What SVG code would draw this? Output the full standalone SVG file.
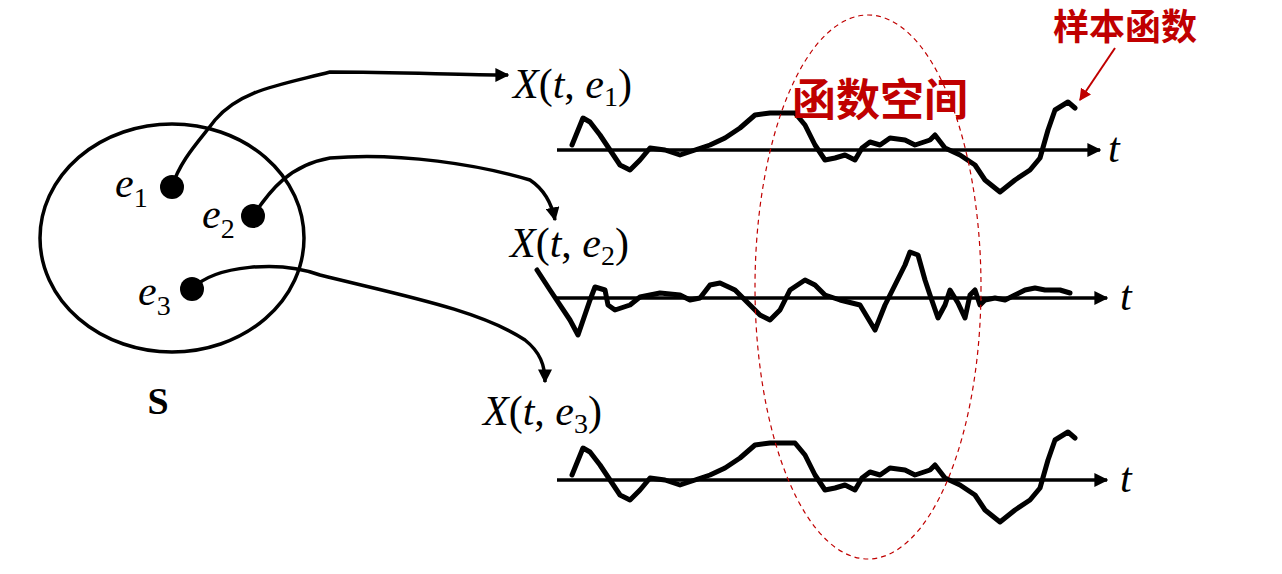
<svg xmlns="http://www.w3.org/2000/svg" width="1282" height="574" viewBox="0 0 1282 574">
<style>
.w{fill:none;stroke:#000;stroke-width:5;stroke-linejoin:round;stroke-linecap:round}
.c{fill:none;stroke:#000;stroke-width:3.5}
.ax{stroke:#000;stroke-width:3.5}
.m{font-family:"Liberation Serif",serif;font-size:42px;font-style:italic}
.up{font-style:normal}
.sub{font-size:28px;font-style:normal}
.red{fill:#c00000;font-family:"Noto Sans CJK SC",sans-serif;font-weight:bold}
</style>
<defs>
<marker id="ar" viewBox="0 0 10 10" refX="9" refY="5" markerWidth="4" markerHeight="4" orient="auto"><path d="M0,0L10,5L0,10z" fill="#000"/></marker>
<marker id="ra" viewBox="0 0 10 10" refX="9" refY="5" markerWidth="6" markerHeight="6" orient="auto"><path d="M0,0L10,5L0,10z" fill="#c00000"/></marker>
<path id="w1" class="w" d="M572,145L583,118L590,122L600,135L610,150L620,165L630,170L640,160L650,148L665,150L680,155L695,150L710,145L725,138L740,128L755,115L770,113L795,113L805,125L815,145L825,160L835,158L845,155L855,160L862,148L870,142L880,145L890,138L905,140L915,145L930,140L935,135L945,148L960,155L975,165L985,180L1000,192L1015,180L1030,170L1040,158L1048,130L1055,110L1068,102L1075,108"/>
</defs>
<g id="set">
<ellipse cx="172" cy="238" rx="132" ry="114" class="c" stroke-width="3"/>
<text x="158" y="414" font-family="Liberation Serif,serif" font-weight="bold" font-size="38" text-anchor="middle">S</text>
</g>
<g id="e1"><circle cx="172" cy="187" r="12"/><text class="m" x="115" y="197">e<tspan class="sub" dy="10">1</tspan></text></g>
<g id="e2"><circle cx="253" cy="216" r="12"/><text class="m" x="202" y="228">e<tspan class="sub" dy="10">2</tspan></text></g>
<g id="e3"><circle cx="192" cy="289" r="12"/><text class="m" x="138" y="305">e<tspan class="sub" dy="10">3</tspan></text></g>
<g id="connectors">
<path class="c" marker-end="url(#ar)" d="M172,187C180,160 200,140 215,120C240,90 280,85 330,72C400,72 460,75 508,75"/>
<path class="c" marker-end="url(#ar)" d="M253,216C270,190 290,165 330,158C400,152 480,165 530,180C545,190 552,205 555,220"/>
<path class="c" marker-end="url(#ar)" d="M192,289C215,265 280,260 320,275C400,295 480,310 525,340C540,352 545,365 545,382"/>
<line class="ax" x1="557" y1="150" x2="1100" y2="150" marker-end="url(#ar)"/>
<line class="ax" x1="557" y1="298" x2="1107" y2="298" marker-end="url(#ar)"/>
<line class="ax" x1="557" y1="480" x2="1107" y2="480" marker-end="url(#ar)"/>
<line stroke="#c00000" stroke-width="2" x1="1115" y1="48" x2="1080" y2="100" marker-end="url(#ra)"/>
</g>
<g id="waves">
<use href="#w1"/>
<use href="#w1" transform="translate(0,330)"/>
<path class="w" d="M537,270L550,290L570,320L578,335L590,300L595,287L605,290L608,305L615,310L630,305L640,297L660,293L680,295L690,300L700,298L710,285L720,283L735,290L745,300L760,315L770,320L780,310L790,290L805,280L815,285L825,295L840,300L860,305L875,330L885,305L895,285L905,265L910,252L918,255L925,280L930,295L938,318L945,305L950,290L958,303L965,318L970,295L975,290L980,305L985,300L995,298L1005,300L1015,295L1025,290L1035,288L1045,290L1060,290L1070,293"/>
</g>
<g id="labels">
<text class="m" x="513" y="98">X<tspan class="up">(</tspan>t<tspan class="up">, </tspan>e<tspan class="sub" dy="8">1</tspan><tspan class="up" dy="-8">)</tspan></text>
<text class="m" x="510" y="257">X<tspan class="up">(</tspan>t<tspan class="up">, </tspan>e<tspan class="sub" dy="8">2</tspan><tspan class="up" dy="-8">)</tspan></text>
<text class="m" x="483" y="425">X<tspan class="up">(</tspan>t<tspan class="up">, </tspan>e<tspan class="sub" dy="8">3</tspan><tspan class="up" dy="-8">)</tspan></text>
<text class="m" x="1108" y="162">t</text>
<text class="m" x="1120" y="310">t</text>
<text class="m" x="1120" y="492">t</text>
</g>
<g id="space">
<ellipse cx="868" cy="287" rx="113" ry="272" fill="none" stroke="#c00000" stroke-width="1.2" stroke-dasharray="5,4"/>
<text class="red" x="880" y="116" font-size="44" text-anchor="middle">函数空间</text>
</g>
<g id="sample"><text class="red" x="1125" y="40" font-size="36" text-anchor="middle">样本函数</text></g>
</svg>
